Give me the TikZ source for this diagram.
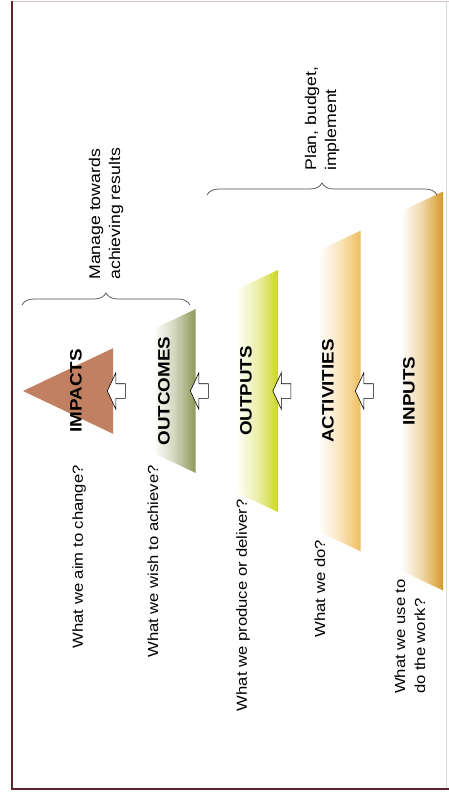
\documentclass[tikz,border=0pt]{standalone}
\usepackage{fontspec}
\setmainfont{Liberation Sans}[FakeStretch=1.14]
\usepackage{xcolor}
\usepackage{tikz}
\usetikzlibrary{shapes.arrows,decorations.pathreplacing}

\definecolor{impactcol}{RGB}{194,128,98}
\definecolor{outcomecol}{RGB}{142,152,88}
\definecolor{outputcol}{RGB}{204,214,40}
\definecolor{activitycol}{RGB}{240,190,92}
\definecolor{inputcol}{RGB}{214,154,38}
\definecolor{framecol}{RGB}{92,36,44}

\tikzset{
  fade/.style={left color=white, right color=#1, middle color=#1!40},
  tiername/.style={rotate=90, font=\fontsize{16.5}{19}\selectfont\bfseries},
  question/.style={rotate=90, anchor=east, align=left, inner sep=0pt, font=\fontsize{14.6}{20}\selectfont},
  bracelabel/.style={rotate=90, anchor=west, align=left, inner sep=0pt, font=\fontsize{15.5}{20}\selectfont},
  uparrow/.style={single arrow, draw=black, fill=white, line width=0.6pt, shape border rotate=180,
    minimum height=18pt, inner xsep=0pt, inner ysep=7pt, single arrow head extend=11pt,
    single arrow tip angle=130, anchor=tip},
  bracket/.style={decorate, decoration={brace, amplitude=12pt}, draw=black!70, line width=0.7pt}
}

\begin{document}
\begin{tikzpicture}[x=1pt, y=1pt]
    \useasboundingbox (0,0) rectangle (449,-796);
    % Frame
    \draw[framecol!25, line width=0.8pt] (12,-1) -- (449,-1);
    \draw[black!15, line width=0.6pt] (446,-1) -- (446,-789);
    \draw[framecol, line width=2pt] (12,-1) -- (12,-789) -- (449,-789);

    % Tiers
    \fill[impactcol] (23,-391) -- (113,-348.2) -- (113,-433.8) -- cycle;
    \shade[fade=outcomecol] (153.5,-329) -- (195.5,-309.1) -- (195.5,-472.9) -- (153.5,-453) -- cycle;
    \shade[fade=outputcol] (236,-289.8) -- (278,-269.9) -- (278,-512.1) -- (236,-492.2) -- cycle;
    \shade[fade=activitycol] (318.5,-250.6) -- (360.5,-230.7) -- (360.5,-551.3) -- (318.5,-531.4) -- cycle;
    \shade[fade=inputcol] (401,-211.4) -- (443,-191.5) -- (443,-590.5) -- (401,-570.6) -- cycle;

    % Nodes
    \node (impacts) [tiername] at (76,-391) {IMPACTS};
    \node (outcomes) [tiername] at (164,-391) {OUTCOMES};
    \node (outputs) [tiername] at (246,-391) {OUTPUTS};
    \node (activities) [tiername] at (328,-391) {ACTIVITIES};
    \node (inputs) [tiername] at (409,-391) {INPUTS};

    % Arrows
    \node (arrow1) [uparrow] at (107,-391) {};
    \node (arrow2) [uparrow] at (190,-391) {};
    \node (arrow3) [uparrow] at (272.5,-391) {};
    \node (arrow4) [uparrow] at (355,-391) {};

    % Questions
    \node (ask-impacts) [question] at (79,-465) {What we aim to change?};
    \node (ask-outcomes) [question] at (153,-465) {What we wish to achieve?};
    \node (ask-outputs) [question] at (243,-499) {What we produce or deliver?};
    \node (ask-activities) [question] at (320,-540) {What we do?};
    \node (ask-inputs) [question] at (410,-579) {What we use to\\do the work?};

    % Braces
    \coordinate (manage-start) at (22,-305);
    \coordinate (manage-end) at (190,-305);
    \coordinate (plan-start) at (207,-195);
    \coordinate (plan-end) at (437,-195);
    \draw[bracket] (manage-start) -- node (manage) [yshift=25pt, bracelabel] {Manage towards\\achieving results} (manage-end);
    \draw[bracket] (plan-start) -- node (plan) [yshift=24pt, bracelabel] {Plan, budget,\\implement} (plan-end);
\end{tikzpicture}
\end{document}
